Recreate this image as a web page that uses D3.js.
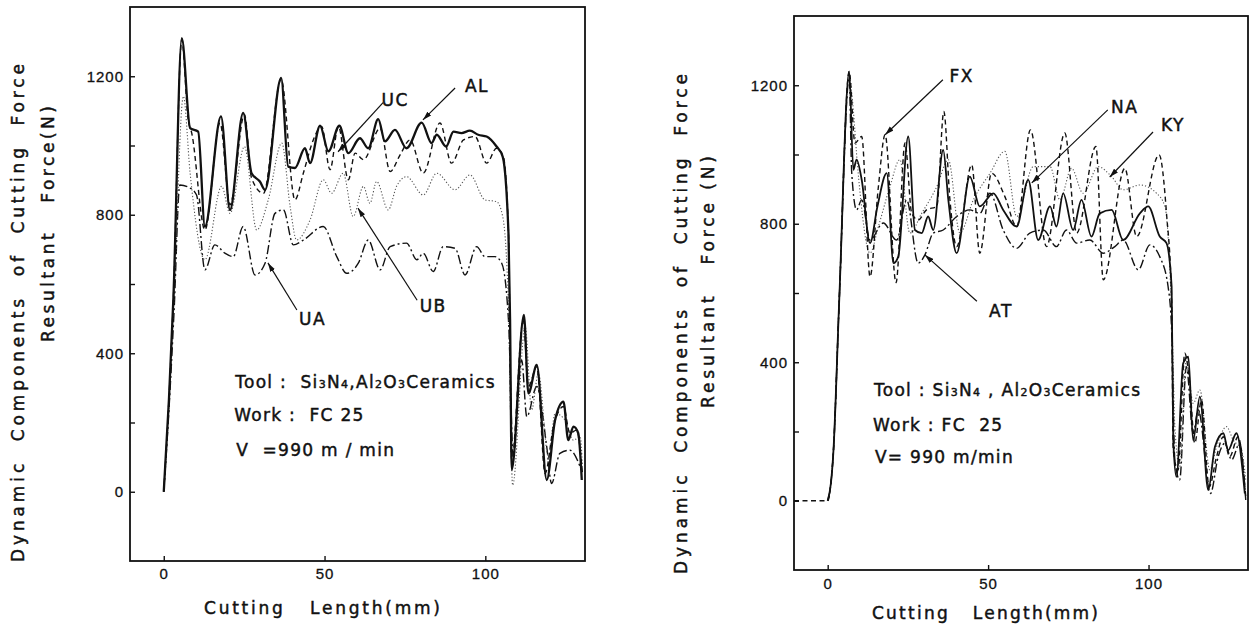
<!DOCTYPE html>
<html>
<head>
<meta charset="utf-8">
<script src="https://cdn.jsdelivr.net/npm/d3@7"></script>
<style>
  body { margin: 0; background: #fff; }
  svg { display: block; font-family: "DejaVu Sans", "Liberation Sans", sans-serif; fill: #111; }
  .tick text { font-size: 15px; letter-spacing: 1px; fill: #111; stroke: #111; stroke-width: 0.3; }
  .tick line { stroke: #111; stroke-width: 1.4; }
  .domain { display: none; }
  .heavy { stroke: #111; stroke-width: 0.45; }
</style>
</head>
<body>
<svg id="chart" width="1255" height="626"></svg>
<script>
// axis values
const xDomain = [-10.5, 131];
const yDomain = [-200, 1400];
const xTicks = [0, 50, 100];
const yMajor = [0, 400, 800, 1200];
const yMinor = [200, 600, 1000];

// left panel: [cutting length mm, force N]
const seriesAL = [[0,0],[1.6,265],[3,560],[5.6,1310],[8.2,1050],[10.7,1040],[12.8,766],[17.8,1084],[20.6,814],[24.7,1094],[27.3,920],[29.9,896],[31.5,872],[36.5,1195],[38.7,939],[40.8,935],[43.9,992],[45.5,949],[48.6,1057],[51.2,983],[54.6,1057],[57.4,978],[61.0,1021],[63.6,992],[66.7,1076],[68.8,1012],[71.9,1045],[75.5,992],[80.2,1066],[83.3,1007],[84.9,1031],[87.8,997],[90.1,1040],[92.6,1036],[95.2,1043],[97.8,1031],[100.4,1026],[103.5,997],[105.4,968],[107.2,747],[107.7,496],[108.2,63],[112,511],[113.4,284],[116,366],[119.1,34],[121.7,207],[124.3,260],[125.8,149],[127.4,188],[128.9,169],[130,34]];
const seriesUC = [[0,0],[1.6,265],[3,560],[5.6,1305],[7.6,1074],[8.7,1036],[12.8,756],[17.5,1065],[20.6,829],[25.1,1089],[27.3,906],[31,862],[36.5,1190],[40.8,843],[43.4,920],[46.5,1016],[49.1,1055],[51.7,930],[54.3,1055],[57.4,901],[59.5,978],[62.1,959],[67.3,1050],[70.4,925],[73.5,973],[76.6,1016],[80.7,920],[85.9,1065],[89.5,949],[93.2,1016],[96.8,1026],[100.4,949],[103.5,992],[105.6,968],[107.2,747],[108.2,92],[111.8,496],[113.4,304],[116,361],[118.6,53],[121.2,188],[124.3,246],[126.3,169],[128.4,178],[130.2,53]];
const seriesUB = [[0,0],[1.7,265],[3.2,560],[6.1,1142],[8.2,920],[12.8,670],[18,882],[20.6,804],[25.1,997],[28.9,756],[32.5,843],[36.7,1007],[39.3,824],[41.3,727],[45.5,785],[49.6,901],[52.2,862],[55.8,920],[58.9,795],[62.1,882],[64.1,833],[66.2,896],[69.8,814],[72.4,882],[75.5,910],[80.7,857],[84.9,920],[90.6,872],[95.2,915],[99.9,843],[103.5,838],[105.4,795],[107.2,535],[108.5,19],[112.4,477],[114.4,236],[116.5,342],[119.6,101],[121.7,226],[124.8,207],[127.4,149],[129.5,159],[130.2,72]];
const seriesUA = [[0,0],[1.7,250],[3.2,520],[5.0,886],[8.2,877],[10.2,857],[12.8,641],[15.9,713],[19.0,689],[21.6,679],[24.7,766],[28.4,626],[31.5,660],[34.6,804],[37.2,814],[40.3,713],[43.4,727],[49.6,766],[53.8,679],[56.9,631],[60.5,660],[63.6,727],[67.3,641],[70.4,708],[75.5,718],[78.7,670],[80.7,689],[83.8,636],[86.9,708],[90.6,703],[93.7,626],[97.3,708],[99.9,679],[103,679],[105.1,660],[107.2,496],[108.7,101],[111.3,381],[112.9,217],[116,304],[119.1,130],[120.6,24],[123.2,111],[126.3,120],[129.5,72]];

// right panel
const seriesNA = [[0,0],[1.0,50],[1.75,137],[3.6,580],[6.7,1240],[8.0,956],[9.0,985],[10.6,927],[13.2,744],[15.5,850],[18.4,946],[20.5,686],[22.0,705],[25.1,1052],[27.2,782],[29.3,773],[31.3,821],[32.9,782],[36.0,1013],[37.6,869],[40.2,715],[44.3,936],[47.4,850],[51.6,888],[54.7,840],[58.9,792],[62.5,927],[65.6,753],[69.3,850],[71.3,792],[73.4,888],[76.5,782],[79.1,869],[82.2,763],[84.8,830],[88.5,840],[92.1,753],[97.3,830],[99.9,850],[103.5,763],[105.6,744],[107.2,618],[107.7,175],[108.7,69],[110.8,397],[112.4,416],[113.9,175],[116,301],[118.6,31],[120.7,156],[123.3,195],[124.8,146],[127.4,195],[130,21]];
const seriesFX = [[-10.5,0],[0,0],[1.0,50],[1.75,137],[3.6,580],[6.7,1240],[8.5,1033],[10.6,1052],[13.2,647],[15.8,907],[17.9,1057],[21.3,630],[24.1,1033],[26.2,830],[28.2,811],[30.8,840],[34.0,850],[36.2,1124],[38.1,869],[40.2,734],[44.9,970],[47.4,715],[51.1,946],[55.2,879],[58.9,792],[63.2,1071],[68.2,734],[73.9,1062],[77.6,773],[83.6,1023],[85.9,638],[92.6,960],[96.3,763],[103.3,999],[105.6,830],[107.2,580],[107.7,146],[109.2,89],[111.3,426],[112.9,330],[114.4,166],[116.5,291],[118.9,40],[121.2,127],[123.3,185],[125.3,127],[127.9,185],[130.3,12]];
const seriesKY = [[0,0],[1.0,50],[1.75,137],[3.6,580],[6.7,1230],[7.5,1177],[9.5,946],[13.2,715],[15.8,792],[19.4,907],[22.5,985],[25.6,773],[29.3,830],[34.0,907],[37.6,985],[41.2,773],[45.4,869],[50.6,946],[55.2,1009],[58.9,821],[64.1,965],[69.3,965],[72.4,869],[76.0,960],[79.6,888],[84.3,965],[88.5,936],[92.1,898],[97.3,912],[102.5,888],[105.1,850],[106.6,676],[107.6,420],[108.2,214],[109.7,98],[111.8,416],[113.9,281],[116,320],[119.1,89],[121.2,156],[124.3,214],[126.4,175],[129,146],[130.3,60]];
const seriesAT = [[0,0],[1.0,50],[1.75,137],[3.6,580],[6.7,1220],[7.5,946],[9.0,840],[10.6,869],[13.2,753],[17.3,802],[21.5,753],[24.6,869],[28.2,686],[30.3,710],[32.9,773],[36.0,782],[40.2,821],[44.3,840],[47.4,830],[50.6,888],[54.7,782],[58.9,729],[63.0,773],[67.2,782],[71.3,734],[74.4,782],[77.6,744],[81.7,753],[85.9,715],[89.5,734],[92.1,753],[96.8,667],[100.4,739],[103.5,705],[106.1,618],[107.2,493],[108.2,118],[109.7,60],[111.8,387],[113.9,195],[115.5,262],[119.3,21],[121.7,127],[123.8,166],[125.9,118],[128.4,166],[130.3,2]];

// callouts: label point, leader start, arrow tip (data units)
const leftNotes = [
  { name: "AL", label: [97.4, 1173], from: [90.6, 1166], tip: [80.6, 1074] },
  { name: "UC", label: [72.0, 1130], from: [68.2, 1124], tip: [54.2, 982] },
  { name: "UA", label: [46.3, 500], from: [41.4, 525], tip: [32.4, 661] },
  { name: "UB", label: [83.8, 537], from: [78.8, 553], tip: [60.4, 819] }
];
const rightNotes = [
  { name: "FX", label: [41.8, 1228], from: [35.9, 1216], tip: [17.9, 1057] },
  { name: "NA", label: [92.6, 1136], from: [87.3, 1129], tip: [63.6, 918] },
  { name: "KY", label: [107.6, 1086], from: [101.4, 1065], tip: [87.9, 935] },
  { name: "AT", label: [54.0, 549], from: [46.5, 576], tip: [30.3, 710] }
];

const lineStyles = {
  solid:   { dash: null,        width: 2.3, color: "#111" },
  solidThin: { dash: null,      width: 1.8, color: "#111" },
  dashed:  { dash: "5 3.5",     width: 1.4, color: "#111" },
  dotted:  { dash: "1.2 2",     width: 1.1, color: "#555" },
  dashdot: { dash: "9 3 2 3",   width: 1.4, color: "#111" }
};

const svg = d3.select("#chart");

svg.append("defs").append("marker")
  .attr("id", "arrow")
  .attr("viewBox", "0 0 10 6")
  .attr("refX", 10).attr("refY", 3)
  .attr("markerWidth", 9).attr("markerHeight", 6)
  .attr("markerUnits", "userSpaceOnUse")
  .attr("orient", "auto")
  .append("path").attr("d", "M0,0L10,3L0,6Z").attr("fill", "#111");

function drawPanel(p) {
  const x = d3.scaleLinear().domain(xDomain).range([p.left, p.right]);
  const y = d3.scaleLinear().domain(yDomain).range([p.bottom, p.top]);
  const g = svg.append("g");

  g.append("rect")
    .attr("x", p.left).attr("y", p.top)
    .attr("width", p.right - p.left).attr("height", p.bottom - p.top)
    .attr("fill", "none").attr("stroke", "#111").attr("stroke-width", 1.8);

  g.append("g").attr("transform", `translate(${p.left},0)`)
    .call(d3.axisLeft(y).tickValues(yMajor).tickSize(-5).tickPadding(6).tickFormat(d3.format("d")));
  g.append("g").attr("transform", `translate(${p.left},0)`)
    .call(d3.axisLeft(y).tickValues(yMinor).tickSize(-5).tickFormat(""));
  g.append("g").attr("transform", `translate(0,${p.bottom})`)
    .call(d3.axisBottom(x).tickValues(xTicks).tickSize(-5).tickPadding(p.xPad));

  const line = d3.line()
    .x(d => x(d[0]))
    .y(d => y(d[1]))
    .curve(d3.curveMonotoneX);

  for (const s of p.series) {
    const st = lineStyles[s.style];
    g.append("path")
      .datum(s.data)
      .attr("fill", "none")
      .attr("stroke", st.color)
      .attr("stroke-width", st.width)
      .attr("stroke-linejoin", "round")
      .attr("stroke-dasharray", st.dash)
      .attr("d", line);
  }

  for (const n of p.notes) {
    g.append("line")
      .attr("x1", x(n.from[0])).attr("y1", y(n.from[1]))
      .attr("x2", x(n.tip[0])).attr("y2", y(n.tip[1]))
      .attr("stroke", "#111").attr("stroke-width", 1.2)
      .attr("marker-end", "url(#arrow)");
    g.append("text")
      .attr("class", "heavy")
      .attr("x", x(n.label[0])).attr("y", y(n.label[1]))
      .attr("text-anchor", "middle").attr("dominant-baseline", "central")
      .attr("font-size", 17).attr("letter-spacing", 1.5)
      .text(n.name);
  }

  // conditions block
  const tx = x(p.textX);
  const t1 = g.append("text").attr("class", "heavy").attr("x", tx).attr("y", y(p.textY[0])).attr("dominant-baseline", "central")
    .attr("font-size", 17).attr("letter-spacing", p.textSpacing);
  const parts = [["Tool", 0], [p.colon, 0], ["Si", 0], ["3", 1], ["N", 0], ["4", 1], [p.comma, 0], ["Al", 0], ["2", 1], ["O", 0], ["3", 1], ["Ceramics", 0]];
  let low = false;
  for (const [s, sub] of parts) {
    const ts = t1.append("tspan").text(s).style("white-space", "pre");
    if (sub) { ts.attr("font-size", 11).attr("dy", low ? 0 : 2); low = true; }
    else { ts.attr("dy", low ? -2 : 0); low = false; }
  }
  g.append("text").attr("class", "heavy").attr("x", tx - 1).attr("y", y(p.textY[1])).attr("dominant-baseline", "central")
    .attr("font-size", 17).attr("letter-spacing", p.textSpacing).style("white-space", "pre")
    .text(p.workText);
  g.append("text").attr("class", "heavy").attr("x", tx + 1).attr("y", y(p.textY[2])).attr("dominant-baseline", "central")
    .attr("font-size", 17).attr("letter-spacing", p.textSpacing).style("white-space", "pre")
    .text(p.speedText);

  // axis titles
  g.append("text")
    .attr("class", "heavy")
    .attr("x", p.xTitle[0]).attr("y", p.xTitle[1])
    .attr("text-anchor", "middle").attr("dominant-baseline", "central")
    .attr("font-size", 17).style("white-space", "pre")
    .attr("textLength", p.xTitle[2]).attr("lengthAdjust", "spacing")
    .text(p.xTitleText);

  p.yTitles.forEach(t => {
    g.append("text")
      .attr("class", "heavy")
      .attr("transform", `translate(${t.x},${t.y}) rotate(-90)`)
      .attr("text-anchor", "middle").attr("dominant-baseline", "central")
      .attr("font-size", 17).style("white-space", "pre")
      .attr("textLength", t.len).attr("lengthAdjust", "spacing")
      .text(t.text);
  });
}

drawPanel({
  left: 130, right: 585, top: 7, bottom: 561, xPad: 7,
  series: [
    { data: seriesUA, style: "dashdot" },
    { data: seriesUB, style: "dotted" },
    { data: seriesUC, style: "dashed" },
    { data: seriesAL, style: "solid" }
  ],
  notes: leftNotes,
  textX: 22.2, textY: [317, 222, 120], textSpacing: 1.3,
  colon: " :  ", comma: ",",
  workText: "Work :  FC 25", speedText: "V  =990 m / min",
  xTitle: [322, 608, 236], xTitleText: "Cutting   Length(mm)",
  yTitles: [
    { x: 18, y: 313, len: 498, text: "Dynamic  Components  of  Cutting  Force" },
    { x: 48, y: 224, len: 236, text: "Resultant   Force(N)" }
  ]
});

drawPanel({
  left: 794, right: 1248, top: 16, bottom: 570, xPad: 8,
  series: [
    { data: seriesAT, style: "dashdot" },
    { data: seriesKY, style: "dotted" },
    { data: seriesFX, style: "dashed" },
    { data: seriesNA, style: "solidThin" }
  ],
  notes: rightNotes,
  textX: 14.4, textY: [320, 219, 126], textSpacing: 1.3,
  colon: " : ", comma: " , ",
  workText: "Work : FC  25", speedText: "V= 990 m/min",
  xTitle: [985, 613, 226], xTitleText: "Cutting   Length(mm)",
  yTitles: [
    { x: 681, y: 324, len: 500, text: "Dynamic  Components  of  Cutting  Force" },
    { x: 708, y: 282, len: 252, text: "Resultant   Force (N)" }
  ]
});
</script>
</body>
</html>
